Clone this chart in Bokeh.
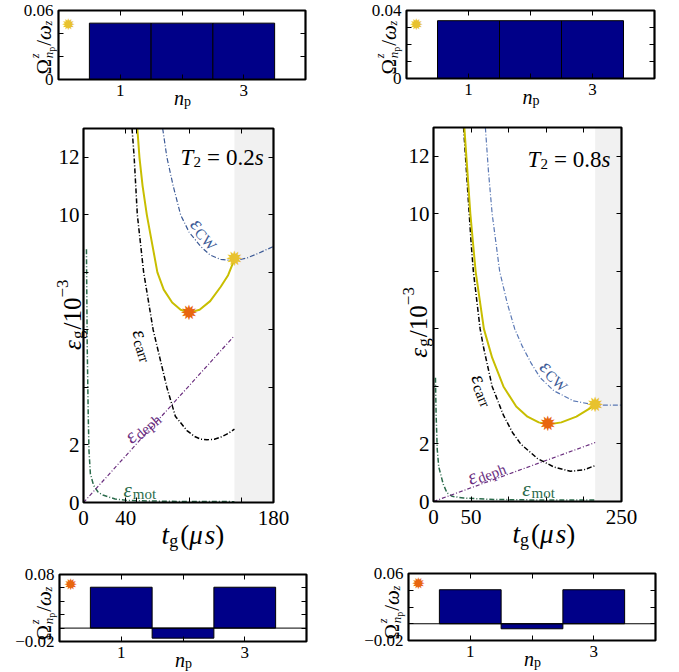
import math
from bokeh.plotting import figure
from bokeh.models import Range1d, FixedTicker, LinearAxis, Label
from bokeh.layouts import row, column
from bokeh.embed import file_html
from bokeh.resources import INLINE
from bokeh.core.properties import value

FONT = "Liberation Serif"

# ---------------- data: bar panels ----------------
modes = [1, 2, 3]
bar_tl = [0.049, 0.049, 0.049]
bar_tr = [0.034, 0.034, 0.034]
bar_bl = [0.061, -0.015, 0.061]
bar_br = [0.0406, -0.006, 0.0406]
star_tl = (0.16, 0.0475)
star_tr = (0.16, 0.0315)
star_bl = (0.18, 0.065)
star_br = (0.16, 0.048)

# ---------------- data: T2 = 0.2 s ----------------
tL_tot = [51, 53, 56, 60, 65, 70, 76, 84, 92, 100, 110, 120, 130, 137, 143]
eL_tot = [13.0, 12.0, 11.0, 10.0, 9.0, 8.0, 7.4, 6.95, 6.7, 6.6, 6.7, 7.0, 7.5, 7.9, 8.45]
tL_cw = [75, 79, 85, 92, 100, 111, 120, 130, 143, 155, 165, 180]
eL_cw = [13.0, 12.0, 11.0, 10.0, 9.4, 8.9, 8.6, 8.45, 8.4, 8.5, 8.65, 8.9]
tL_carr = [46, 48, 51, 57, 66, 79, 87, 98, 105, 111, 117, 124, 130, 137, 143]
eL_carr = [13.0, 12.0, 10.0, 8.0, 6.0, 4.0, 3.0, 2.5, 2.3, 2.2, 2.18, 2.2, 2.27, 2.4, 2.55]
tL_deph = [0, 143]
eL_deph = [0, 5.8]
tL_mot = [2.8, 3.5, 4.5, 5.2, 6.5, 9.5, 14, 19, 30, 42, 80, 143]
eL_mot = [8.8, 5.5, 3.0, 1.8, 1.0, 0.6, 0.35, 0.25, 0.12, 0.07, 0.04, 0.03]
tL_opt, eL_opt = [100], [6.6]
tL_cwpt, eL_cwpt = [143], [8.45]
tL_shade = 143

# ---------------- data: T2 = 0.8 s ----------------
tR_tot = [41, 45, 49, 56, 67, 78, 93, 110, 125, 140, 152, 170, 190, 215]
eR_tot = [13.0, 11.5, 10.0, 8.0, 6.0, 5.0, 4.0, 3.3, 2.95, 2.75, 2.68, 2.75, 2.95, 3.35]
tR_cw = [69, 73, 78, 88, 98, 108, 118, 130, 142, 160, 186, 215, 250]
eR_cw = [13.0, 11.5, 10.0, 8.0, 6.9, 6.0, 5.4, 4.8, 4.3, 3.85, 3.5, 3.35, 3.35]
tR_carr = [40, 45, 50, 53, 62, 67, 78, 93, 105, 116, 138, 160, 182, 200, 215]
eR_carr = [13.0, 11.0, 9.0, 8.0, 6.0, 5.3, 4.0, 3.0, 2.4, 2.0, 1.5, 1.2, 1.05, 1.1, 1.25]
tR_deph = [0, 215]
eR_deph = [0, 2.05]
tR_mot = [2.6, 3.5, 5, 7, 10, 13, 18, 25, 40, 80, 150, 215]
eR_mot = [4.3, 3.0, 1.8, 1.2, 0.9, 0.6, 0.3, 0.18, 0.12, 0.07, 0.05, 0.05]
tR_opt, eR_opt = [152], [2.68]
tR_cwpt, eR_cwpt = [215], [3.35]
tR_shade = 215

YELLOW = "#c8be00"
STAR_Y = "#e8c22e"
STAR_O = "#e8660f"
C_CW = "#3c5a96"
C_DEPH = "#6b2f7f"
C_MOT = "#2b6b4b"
BAR = "#000088"

EM = {'0': .5, '1': .5, '2': .5, '3': .5, '4': .5, '5': .5, '6': .5, '7': .5, '8': .5, '9': .5,
      '.': .25, '/': .278, '(': .333, ')': .333, '=': .564, '−': .564, 'ε': .44, 'μ': .58,
      'Ω': .77, 'ω': .69, 'T': .56, 't': .28, 's': .39, 'g': .5, 'n': .5, 'p': .5, 'z': .39,
      'C': .667, 'W': .944, 'c': .444, 'a': .444, 'r': .333, 'm': .778, 'o': .5, 'd': .5,
      'e': .444, 'h': .5}


def tw(s, size):
    return sum(EM.get(c, 0.5) for c in s) * size


def rich(p, x, y, segs, angle=0.0, xo=0.0, yo=0.0, color="black"):
    a = math.radians(angle)
    ca, sa = math.cos(a), math.sin(a)
    adv = 0.0
    for seg in segs:
        text, size, shift, style = seg[:4]
        after = seg[4] if len(seg) > 4 else None
        dx = adv * ca - shift * sa
        dy = adv * sa + shift * ca
        p.add_layout(Label(x=x, y=y, x_offset=xo + dx, y_offset=yo + dy, angle=a, text=text,
                           text_font=FONT, text_font_size=f"{size}px", text_font_style=style,
                           text_color=color, text_align="left", text_baseline="alphabetic"))
        if after == "hold":
            continue
        adv += tw(text, size) + (after or 0)


def make_panel(W, H, bx, by, bw, bh, x0, x1, y0, y1):
    """Figure whose frame fills the whole canvas; the drawn box sits at (bx, by, bw, bh) px."""
    sx = (x1 - x0) / bw
    sy = (y1 - y0) / bh
    xr = (x0 - bx * sx, x1 + (W - bx - bw) * sx)
    yr = (y0 - (H - by - bh) * sy, y1 + by * sy)
    p = figure(width=W, height=H, x_range=Range1d(*xr), y_range=Range1d(*yr),
               output_backend="svg", toolbar_location=None, tools="",
               x_axis_type=None, y_axis_type=None,
               min_border_left=0, min_border_right=0, min_border_top=0, min_border_bottom=0)
    p.background_fill_color = "white"
    p.border_fill_color = "white"
    p.outline_line_color = None
    return p


def make_axis(loc, major, minor, labels, fs, stand):
    ax = LinearAxis(fixed_location=loc, ticker=FixedTicker(ticks=major, minor_ticks=minor))
    ax.major_tick_in = 5
    ax.major_tick_out = 0
    ax.minor_tick_in = 5
    ax.minor_tick_out = 0
    ax.axis_line_color = None
    ax.major_tick_line_color = "black"
    ax.minor_tick_line_color = "black"
    ax.major_label_text_font = FONT
    ax.major_label_text_font_size = f"{fs}px"
    ax.major_label_text_color = "black"
    ax.major_label_standoff = stand
    if labels:
        ax.major_label_overrides = {t: l for t, l in zip(major, labels)}
    return ax


def add_box_axes(p, box, xmaj, xlab, xmin, ymaj, ylab, ymin, fs, xst, yst):
    x0, x1, y0, y1 = box
    p.add_layout(make_axis(y0, xmaj, xmin, xlab, fs, xst), "below")
    p.add_layout(make_axis(y1, [], xmaj + xmin, None, fs, 0), "above")
    p.add_layout(make_axis(x0, ymaj, ymin, ylab, fs, yst), "left")
    p.add_layout(make_axis(x1, [], ymaj + ymin, None, fs, 0), "right")


def outline(p, box):
    x0, x1, y0, y1 = box
    p.quad(left=[x0], right=[x1], bottom=[y0], top=[y1], fill_color=None,
           line_color="black", line_width=2.2)


def star(p, xs, ys, color, size):
    p.text(x=xs, y=ys, text=["\u2739"] * len(xs), text_font=value("DejaVu Sans"),
           text_font_size=size, text_align="center", text_baseline="middle", text_color=color)


def bar_panel(W, H, bx, by, bw, bh, yr, ymaj, ylab, ymin, vals, st, st_color, zero_line,
              ylab_xo, ylab_yo):
    box = (0, 4, yr[0], yr[1])
    p = make_panel(W, H, bx, by, bw, bh, *box)
    p.quad(left=[m - 0.5 for m in modes], right=[m + 0.5 for m in modes],
           bottom=[0] * 3, top=vals, fill_color=BAR, line_color="black", line_width=1)
    if zero_line:
        p.line([0, 4], [0, 0], line_color="black", line_width=1)
    star(p, [st[0]], [st[1]], st_color, "16px")
    add_box_axes(p, box, [1, 3], ["1", "3"], [2], ymaj, ylab, ymin, 17, 5, 5)
    outline(p, box)
    rich(p, 2, yr[0], [("n", 20, 0, "italic"), ("p", 14, -4, "normal")], xo=-8, yo=-18)
    rich(p, 0, yr[0], [("Ω", 21, 0, "normal"), ("z", 12, 9, "italic", "hold"),
                       ("n", 13, -5, "italic"), ("p", 10, -8, "normal", 1),
                       ("/", 21, 0, "normal"), ("ω", 21, 0, "italic"), ("z", 12, -4, "italic")],
         angle=90, xo=ylab_xo, yo=ylab_yo)
    return p


def main_panel(W, H, bx, by, bw, bh, xmax, xmaj, xlab, xmin, shade, curves, opt, cwpt, T2, t2pos,
               elabels, ylab_pos, xlab_pos):
    box = (0, xmax, 0, 13)
    p = make_panel(W, H, bx, by, bw, bh, *box)
    p.quad(left=[shade], right=[xmax], bottom=[0], top=[13], fill_color="#f1f1f1",
           line_color=None)
    for t, e, col, lw, dash in curves:
        p.line(t, e, line_color=col, line_width=lw, line_dash=dash)
    star(p, opt[0], opt[1], STAR_O, "21px")
    star(p, cwpt[0], cwpt[1], STAR_Y, "21px")
    add_box_axes(p, box, xmaj, xlab, xmin, [0, 2, 10, 12], ["0", "2", "10", "12"], [4, 6, 8],
                 21, 8, 4)
    outline(p, box)
    rich(p, t2pos[0], t2pos[1], [("T", 23, 0, "italic"), ("2", 15, -5, "normal", 6),
                                 ("=", 23, 0, "normal", 6), ("0." + T2, 23, 0, "normal"),
                                 ("s", 23, 0, "italic")])
    for x, y, ang, sub, col in elabels:
        rich(p, x, y, [("ε", 21, 0, "italic"), (sub, 15, -4, "normal")], angle=ang, color=col)
    rich(p, 0, ylab_pos[1], [("ε", 25, 0, "italic"), ("g", 17, -5, "normal", 1),
                             ("/10", 25, 0, "normal"), ("−3", 17, 10, "normal")],
         angle=90, xo=ylab_pos[0])
    rich(p, xlab_pos, 0, [("t", 27, 0, "italic"), ("g", 18, -6, "normal", 2), ("(", 27, 0, "normal"),
                          ("μ", 27, 0, "italic"), ("s", 27, 0, "italic"), (")", 27, 0, "normal")],
         yo=-32)
    return p


# ---------------- left column ----------------
p_tl = bar_panel(340, 110, 58, 10, 247, 69, (0, 0.06), [0, 0.06], ["0", "0.06"], [0.02, 0.04],
                 bar_tl, star_tl, STAR_Y, False, -15, 5)
p_ml = main_panel(340, 450, 83, 18, 190, 374, 180, [0, 40, 180], ["0", "40", "180"],
                  [50, 100, 150], tL_shade,
                  [(tL_mot, eL_mot, C_MOT, 1.5, "5 2 1 2"),
                   (tL_deph, eL_deph, C_DEPH, 1.2, "4 2 1 2"),
                   (tL_carr, eL_carr, "black", 1.5, "5 2 1 2"),
                   (tL_cw, eL_cw, C_CW, 1.2, "5 2 1 2"),
                   (tL_tot, eL_tot, YELLOW, 2, "solid")],
                  (tL_opt, eL_opt), (tL_cwpt, eL_cwpt), "2", (92, 12.0),
                  [(105, 9.8, -48, "CW", C_CW), (52.4, 6.0, -72, "carr", "black"),
                   (41.5, 2.2, 40, "deph", C_DEPH), (38, 0.45, 0, "mot", C_MOT)],
                  (-11, 5.3), 74)
p_bl = bar_panel(340, 112, 59, 14, 247, 67, (-0.02, 0.08), [-0.02, 0.08], ["−0.02", "0.08"],
                 [0, 0.02, 0.04, 0.06], bar_bl, star_bl, STAR_O, True, -16, 1)

# ---------------- right column ----------------
p_tr = bar_panel(339, 110, 66, 10, 248, 68, (0, 0.04), [0, 0.04], ["0", "0.04"], [0.01, 0.02, 0.03],
                 bar_tr, star_tr, STAR_Y, False, -18, 4)
p_mr = main_panel(339, 450, 93, 17, 188, 374, 250, [0, 50, 250], ["0", "50", "250"],
                  [100, 150, 200], tR_shade,
                  [(tR_mot, eR_mot, C_MOT, 1.5, "5 2 1 2"),
                   (tR_deph, eR_deph, C_DEPH, 1.2, "4 2 1 2"),
                   (tR_carr, eR_carr, "black", 1.5, "5 2 1 2"),
                   (tR_cw, eR_cw, "#5a78b4", 1.2, "5 2 1 2"),
                   (tR_tot, eR_tot, YELLOW, 2, "solid")],
                  (tR_opt, eR_opt), (tR_cwpt, eR_cwpt), "8", (125, 11.9),
                  [(146, 4.8, -43, "CW", C_CW), (58.5, 4.4, -68, "carr", "black"),
                   (46, 0.8, 21, "deph", C_DEPH), (118, 0.42, 0, "mot", C_MOT)],
                  (-15, 5.0), 105)
p_br = bar_panel(339, 112, 68, 13, 247, 67, (-0.02, 0.06), [-0.02, 0.06], ["−0.02", "0.06"],
                 [0, 0.02, 0.04], bar_br, star_br, STAR_O, True, -17, 1)

layout = row(column(p_tl, p_ml, p_bl), column(p_tr, p_mr, p_br))
open("out.html", "w").write(file_html(layout, INLINE))
